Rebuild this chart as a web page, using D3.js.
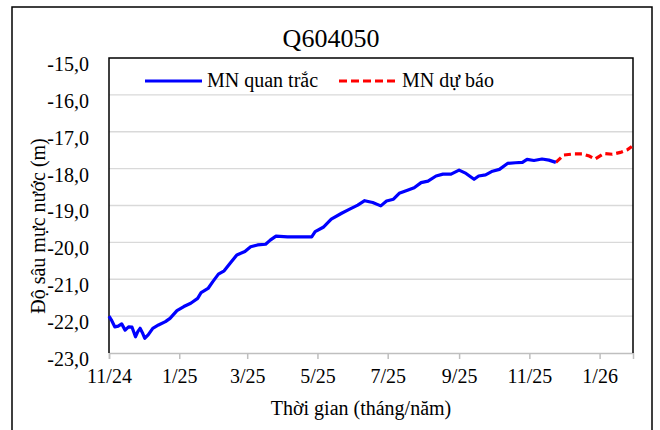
<!DOCTYPE html>
<html><head><meta charset="utf-8">
<script src="https://cdn.jsdelivr.net/npm/d3@7"></script>
</head><body style="margin:0">
<div id="wrap" style="width:660px;height:430px;overflow:hidden"><svg id="c" width="660" height="430"></svg></div>
<script>
const title = "Q604050";
const seriesNames = ["MN quan trắc", "MN dự báo"];
const yTicks = [-15, -16, -17, -18, -19, -20, -21, -22, -23];
const xTickLabels = ["11/24","1/25","3/25","5/25","7/25","9/25","11/25","1/26"];
const xTickDates = ["2024-11-01","2025-01-01","2025-03-01","2025-05-01","2025-07-01","2025-09-01","2025-11-01","2026-01-01"];
const obsDates = ["2024-11-01","2024-11-03","2024-11-06","2024-11-09","2024-11-12","2024-11-15","2024-11-18","2024-11-21","2024-11-24","2024-11-26","2024-11-28","2024-11-30","2024-12-02","2024-12-05","2024-12-09","2024-12-14","2024-12-20","2024-12-24","2024-12-30","2025-01-05","2025-01-11","2025-01-17","2025-01-20","2025-01-26","2025-01-30","2025-02-04","2025-02-09","2025-02-14","2025-02-20","2025-02-27","2025-03-04","2025-03-10","2025-03-17","2025-03-21","2025-03-26","2025-04-05","2025-04-16","2025-04-26","2025-04-29","2025-05-06","2025-05-13","2025-05-22","2025-05-29","2025-06-05","2025-06-11","2025-06-18","2025-06-25","2025-06-30","2025-07-06","2025-07-11","2025-07-17","2025-07-24","2025-07-30","2025-08-05","2025-08-12","2025-08-18","2025-08-25","2025-09-01","2025-09-07","2025-09-14","2025-09-18","2025-09-24","2025-09-30","2025-10-06","2025-10-13","2025-10-20","2025-10-26","2025-10-30","2025-11-05","2025-11-12","2025-11-18","2025-11-24"];
const obsValues = [-22.0,-22.1,-22.29,-22.27,-22.21,-22.38,-22.29,-22.3,-22.56,-22.42,-22.33,-22.45,-22.6,-22.51,-22.33,-22.24,-22.15,-22.06,-21.85,-21.74,-21.65,-21.52,-21.36,-21.25,-21.07,-20.86,-20.77,-20.57,-20.34,-20.25,-20.12,-20.07,-20.05,-19.94,-19.83,-19.85,-19.85,-19.85,-19.71,-19.59,-19.37,-19.21,-19.1,-18.99,-18.87,-18.92,-19.01,-18.88,-18.83,-18.67,-18.6,-18.52,-18.38,-18.34,-18.2,-18.15,-18.15,-18.04,-18.13,-18.29,-18.2,-18.17,-18.07,-18.02,-17.86,-17.84,-17.83,-17.75,-17.78,-17.74,-17.77,-17.83];
const fcDates = ["2025-11-24","2025-12-01","2025-12-10","2025-12-17","2025-12-23","2025-12-28","2026-01-05","2026-01-12","2026-01-19","2026-01-25","2026-01-29"];
const fcValues = [-17.83,-17.63,-17.6,-17.6,-17.66,-17.74,-17.59,-17.61,-17.56,-17.49,-17.4];

const FONT = "Liberation Serif";
const parse = d3.utcParse("%Y-%m-%d");
const svg = d3.select("#c");
const L = 109, R = 633, T = 58, B = 353;
const x = d3.scaleUtc().domain([parse("2024-11-01"), parse("2026-01-30")]).range([L, R]);
const y = d3.scaleLinear().domain([-23, -15]).range([B, T]);

function txt(sel, size) {
  return sel.attr("font-family", FONT).attr("font-size", size).attr("fill", "#000");
}

// outer chart border
svg.append("rect").attr("x",12).attr("y",7).attr("width",640).attr("height",440)
  .attr("fill","#fff").attr("stroke","#000").attr("stroke-width",1.5);

// title
txt(svg.append("text").attr("x",331).attr("y",47).attr("text-anchor","middle"), 26).text(title);

// gridlines
svg.append("g").selectAll("line").data(yTicks.filter(v => v > -23 && v < -15)).join("line")
  .attr("x1",L).attr("x2",R).attr("y1",d=>y(d)).attr("y2",d=>y(d))
  .attr("stroke","#d9d9d9").attr("stroke-width",1.3);

// x axis
const xAxis = d3.axisBottom(x).tickValues(xTickDates.map(parse)).tickSize(6)
  .tickFormat((d,i)=>xTickLabels[i]);
const gx = svg.append("g").attr("transform",`translate(0,${B})`).call(xAxis)
  .attr("font-family", FONT);
gx.select(".domain").attr("stroke","#bfbfbf").attr("stroke-width",1.5);
gx.selectAll(".tick line").attr("stroke","#bfbfbf").attr("stroke-width",1.5);
txt(gx.selectAll(".tick text"), 20).attr("y",14).attr("dy","0.8em");

// y axis labels
const yAxis = d3.axisLeft(y).tickValues(yTicks).tickSize(0).tickPadding(20)
  .tickFormat(d => d3.format(".1f")(d).replace(".", ",").replace("−","-"));
const gy = svg.append("g").attr("transform",`translate(${L},0)`).call(yAxis)
  .attr("font-family", FONT);
gy.select(".domain").remove();
txt(gy.selectAll(".tick text"), 20).attr("dy","0.62em");

// plot border (top, left, right)
svg.append("path").attr("d",`M${L},${B}V${T}H${R}V${B}`).attr("fill","none")
  .attr("stroke","#000").attr("stroke-width",1.5);

// lines
const line = d3.line().x(d=>x(d[0])).y(d=>y(d[1]));
const obs = obsDates.map((d,i)=>[parse(d), obsValues[i]]);
const fc = fcDates.map((d,i)=>[parse(d), fcValues[i]]);
svg.append("path").datum(fc).attr("d",line).attr("fill","none")
  .attr("stroke","#ff0000").attr("stroke-width",3.2).attr("stroke-dasharray","7,4");
svg.append("path").datum(obs).attr("d",line).attr("fill","none")
  .attr("stroke","#0000ff").attr("stroke-width",3.2).attr("stroke-linejoin","round");

// legend
const lg = svg.append("g");
lg.append("line").attr("x1",145).attr("x2",202).attr("y1",81).attr("y2",81)
  .attr("stroke","#0000ff").attr("stroke-width",3.2);
txt(lg.append("text").attr("x",207).attr("y",87), 20).text(seriesNames[0]);
lg.append("line").attr("x1",339).attr("x2",397).attr("y1",81).attr("y2",81)
  .attr("stroke","#ff0000").attr("stroke-width",3.2).attr("stroke-dasharray","8,4");
txt(lg.append("text").attr("x",402).attr("y",87), 20).text(seriesNames[1]);

// axis titles
txt(svg.append("text").attr("x",361).attr("y",415).attr("text-anchor","middle"), 20)
  .text("Thời gian (tháng/năm)");
txt(svg.append("text").attr("transform","translate(45,226) rotate(-90)").attr("text-anchor","middle"), 20)
  .text("Độ sâu mực nước (m)");
</script></body></html>
